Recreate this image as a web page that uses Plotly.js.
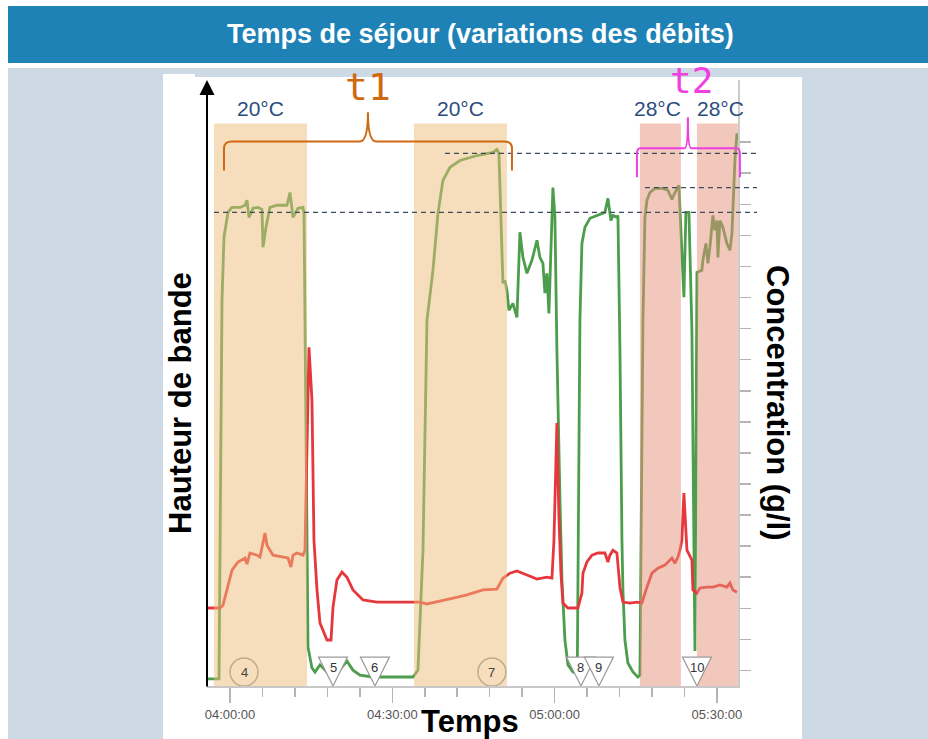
<!DOCTYPE html>
<html><head><meta charset="utf-8">
<script src="https://cdn.plot.ly/plotly-3.0.1.min.js"></script>
<style>html,body{margin:0;padding:0;background:#fff}#chart{width:928px;height:739px}</style>
</head><body><div id="chart"></div>
<script>
// ---- data (time in minutes after 04:00:00, values in concentration-axis units) ----
const xTickVals = [0, 30, 60, 90];
const xTickLabels = ['04:00:00', '04:30:00', '05:00:00', '05:30:00'];
const concTicks = [1,2,3,4,5,6,7,8,9,10,11,12,13,14,15,16,17,18];

const greenT = [-4.62,-2.03,-1.48,-1.11,-0.37,0.37,1.85,2.77,3.14,3.51,4.25,5.17,5.91,6.10,6.65,7.39,8.69,10.53,11.09,11.64,12.57,13.49,13.68,14.05,14.42,15.15,15.71,16.63,17.93,19.04,20.70,21.62,22.73,24.03,26.43,33.82,34.74,35.67,36.41,37.52,38.44,39.36,40.66,42.51,45.65,48.61,49.34,49.71,50.27,50.45,50.82,51.19,51.56,52.30,53.04,53.59,54.15,54.89,55.81,56.37,56.74,57.29,57.84,58.21,58.58,58.95,59.69,60.06,60.43,60.99,61.36,61.91,62.47,63.39,64.13,64.22,64.50,64.68,65.05,65.61,66.53,67.83,68.75,69.30,69.86,70.41,70.78,71.52,71.71,72.08,72.45,72.63,73.00,73.55,74.48,75.40,75.77,76.14,76.33,76.70,77.07,77.62,78.54,80.02,80.95,81.69,82.24,82.98,83.90,84.27,84.83,85.38,85.94,86.31,87.23,87.41,87.97,88.34,88.71,89.26,89.63,90.00,90.19,90.56,91.11,91.85,92.41,92.78,93.33,93.70,93.88];
const greenV = [0.73,0.73,12.91,14.94,15.74,15.90,15.90,15.97,16.13,15.58,15.87,15.90,15.84,14.62,15.26,15.90,15.97,15.97,16.38,15.58,15.87,15.90,15.71,8.09,1.75,1.08,0.95,1.18,0.95,0.69,1.11,1.30,1.01,0.85,0.79,0.79,1.01,4.87,12.27,13.88,15.71,16.77,17.19,17.41,17.57,17.67,17.77,17.64,14.94,13.46,13.55,13.23,12.59,12.81,12.36,15.10,14.29,13.78,14.20,14.62,14.84,14.29,14.10,13.14,13.78,12.49,16.54,15.58,11.30,6.48,3.91,1.98,1.18,0.95,0.92,1.56,9.70,12.27,14.74,15.26,15.55,15.64,15.71,15.74,16.19,15.48,15.64,15.58,15.64,11.30,5.19,3.59,1.98,1.24,0.95,0.79,0.85,8.09,12.27,15.58,16.13,16.38,16.51,16.51,16.45,16.16,16.38,16.61,13.01,15.74,15.74,11.95,1.63,13.81,13.88,14.20,14.74,14.10,14.62,15.64,15.16,15.48,14.29,15.48,15.26,14.74,14.52,15.07,17.41,18.28,18.06];

const redT = [-4.44,-1.85,-1.29,-0.55,0.37,1.48,2.77,3.14,3.70,4.99,5.54,6.47,6.84,7.95,9.79,10.72,11.27,11.64,12.38,13.49,13.86,14.60,15.15,15.34,15.52,16.08,16.63,17.93,18.67,19.04,19.77,20.70,21.62,22.73,24.58,27.17,30.12,35.11,36.41,38.26,40.66,43.80,46.76,49.34,50.45,51.75,53.04,54.89,56.74,58.58,59.51,59.88,60.43,60.80,61.17,61.54,62.47,64.31,65.05,65.24,65.97,66.90,68.01,69.30,69.86,70.23,70.78,71.52,72.08,72.63,73.92,75.22,76.14,77.07,77.99,79.10,80.39,81.69,82.24,82.79,83.16,83.53,83.90,84.46,85.38,85.57,86.31,86.86,88.15,89.26,90.56,91.85,92.41,92.96,93.70];
const redV = [3.01,3.01,3.10,3.59,4.23,4.49,4.62,4.42,4.78,4.71,4.65,5.42,5.03,4.71,4.65,4.62,4.33,4.71,4.78,4.71,4.87,11.40,9.70,7.54,5.19,3.59,2.53,1.98,1.98,3.04,3.91,4.17,4.00,3.59,3.27,3.20,3.20,3.20,3.14,3.20,3.30,3.43,3.59,3.62,3.97,4.13,4.20,4.07,3.94,4.00,3.97,5.19,8.96,5.93,4.13,3.17,3.01,3.01,3.49,4.13,4.49,4.71,4.78,4.78,4.49,4.71,4.87,4.78,3.68,3.20,3.17,3.20,3.17,3.68,4.13,4.29,4.39,4.62,4.45,4.65,4.87,5.19,6.71,4.87,4.55,3.59,3.49,3.65,3.68,3.68,3.75,3.68,3.81,3.59,3.52];

const regionStart = [-2.96, 34.00, 75.77, 86.31];
const regionEnd   = [14.23, 51.19, 83.35, 93.88];
const regionTemp  = ['20°C', '20°C', '28°C', '28°C'];
const regionKind  = ['t1', 't1', 't2', 't2'];
const regionTop = 18.6;

const eventTimes  = [19.04, 26.80, 64.87, 68.19, 86.31];
const eventLabels = ['5', '6', '8', '9', '10'];
const sampleTimes  = [2.59, 48.42];
const sampleLabels = ['4', '7'];

const refLevels = [15.74, 17.64, 16.54];
const refStarts = [-2.96, 39.73, 76.70];

// ---- scales / layout helpers ----
const X0 = -4.25, X1 = 93.9, Y0 = 0.5, Y1 = 20;
const L = 207, R = 190, T = 80, B = 53, W = 928, H = 739;
const PW = W - L - R, PH = H - T - B;
const xp = m => (m - X0) / (X1 - X0);          // data -> paper
const yp = v => (v - Y0) / (Y1 - Y0);
const pxX = p => (p - L) / PW;                 // page pixel -> paper
const pxY = p => (H - B - p) / PH;

const kindColor = {t1: '#cf6a12', t2: '#f03ee0'};
const fillColor = {t1: '#eebc7a', t2: '#e6917a'};
const SANS = 'Liberation Sans, Arial, sans-serif';

function brace(x0, x1, xc, yTop, yEnd, yCusp, rx, ry) {
  const a = xp(x0), b = xp(x1), c = xp(xc), rX = xp(x0 + rx) - xp(x0);
  const t = yp(yTop), e = yp(yEnd), k = yp(yCusp), r = yp(Y0 + ry) - yp(Y0);
  return `M${a},${e} L${a},${t - r} Q${a},${t} ${a + rX},${t} L${c - rX},${t} Q${c},${t} ${c},${k} ` +
         `Q${c},${t} ${c + rX},${t} L${b - rX},${t} Q${b},${t} ${b},${t - r} L${b},${e}`;
}

const shapes = [];
// page background
shapes.push({type:'rect', xref:'paper', yref:'paper', x0:pxX(8), x1:pxX(928), y0:pxY(739), y1:pxY(68), fillcolor:'#cdd9e5', line:{width:0}, layer:'below'});
shapes.push({type:'rect', xref:'paper', yref:'paper', x0:pxX(8), x1:pxX(928), y0:pxY(63), y1:pxY(6), fillcolor:'#1f82b6', line:{width:0}, layer:'below'});
shapes.push({type:'rect', xref:'paper', yref:'paper', x0:pxX(163), x1:pxX(802), y0:pxY(739), y1:pxY(77), fillcolor:'#ffffff', line:{width:0}, layer:'below'});
shapes.push({type:'rect', xref:'paper', yref:'paper', x0:pxX(163), x1:pxX(195), y0:pxY(78), y1:pxY(74), fillcolor:'#ffffff', line:{width:0}, layer:'below'});
// shaded temperature regions
regionStart.forEach((s, i) => {
  shapes.push({type:'rect', xref:'x', yref:'y', x0:s, x1:regionEnd[i], y0:Y0, y1:regionTop,
    fillcolor:fillColor[regionKind[i]], opacity:0.5, line:{width:0}, layer:'above'});
});
// event triangles
const triHalf = 2.68, triTop = 1.43;
eventTimes.forEach(t => {
  shapes.push({type:'path', xref:'x', yref:'y', layer:'above',
    path:`M${t - triHalf},${triTop} L${t + triHalf},${triTop} L${t},${Y0} Z`,
    fillcolor:'#ffffff', line:{color:'#9a9a9a', width:1.2}});
});
// dashed reference levels
refLevels.forEach((v, i) => {
  shapes.push({type:'line', xref:'paper', yref:'paper', x0:xp(refStarts[i]), x1:pxX(757), y0:yp(v), y1:yp(v),
    line:{color:'#3d4c5c', width:1.3, dash:'5px,4px'}, layer:'above'});
});
// braces
shapes.push({type:'path', xref:'paper', yref:'paper', layer:'above', line:{color:kindColor.t1, width:2},
  path: brace(-1.11, 52.12, 25.5, 18.02, 17.09, 18.96, 1.5, 0.22)});
shapes.push({type:'path', xref:'paper', yref:'paper', layer:'above', line:{color:kindColor.t2, width:2},
  path: brace(75.22, 94.25, 84.64, 17.80, 16.87, 18.80, 0.6, 0.18)});

const annotations = [];
const ann = o => annotations.push(Object.assign({showarrow:false, xanchor:'center', yanchor:'middle'}, o));
ann({xref:'paper', yref:'paper', x:pxX(481), y:pxY(34), text:'<b>Temps de séjour (variations des débits)</b>',
  font:{family:SANS, size:27, color:'#ffffff'}});
// vertical axis arrow
annotations.push({xref:'paper', yref:'paper', x:0, y:1, ax:0, ay:PH + 2, text:'', showarrow:true,
  arrowhead:2, arrowsize:1.5, arrowwidth:2, arrowcolor:'#000000', standoff:0, startstandoff:0});
// axis titles
ann({xref:'paper', yref:'paper', x:pxX(180), y:pxY(403), textangle:-90, text:'<b>Hauteur de bande</b>',
  font:{family:SANS, size:31, color:'#000'}});
ann({xref:'paper', yref:'paper', x:pxX(778), y:pxY(403), textangle:90, text:'<b>Concentration (g/l)</b>',
  font:{family:SANS, size:31, color:'#000'}});
ann({xref:'paper', yref:'paper', x:pxX(470), y:pxY(721), text:'<b>Temps</b>',
  font:{family:SANS, size:31, color:'#000'}});
// temperature labels
const tempShift = [0, 0, -3, 3];
regionStart.forEach((s, i) => {
  ann({xref:'x', yref:'paper', x:(s + regionEnd[i]) / 2, y:yp(19.09), xshift:tempShift[i], text:regionTemp[i],
    font:{family:SANS, size:21, color:'#2b4d7e'}});
});
// t1 / t2 labels
ann({xref:'paper', yref:'paper', x:xp(25.6), y:yp(19.79), text:'t1',
  font:{family:'DejaVu Sans Mono, monospace', size:38, color:kindColor.t1}});
ann({xref:'paper', yref:'paper', x:xp(85.3), y:yp(19.99), text:'t2',
  font:{family:'DejaVu Sans Mono, monospace', size:36, color:kindColor.t2}});
// event numbers
eventTimes.forEach((t, i) => {
  ann({xref:'x', yref:'y', x:t, y:1.08, text:eventLabels[i], font:{family:SANS, size:13, color:'#333'}});
});
sampleTimes.forEach((t, i) => {
  ann({xref:'x', yref:'y', x:t, y:0.95, text:sampleLabels[i], font:{family:SANS, size:13, color:'#444'}});
});

const traces = [
  {x:sampleTimes, y:sampleTimes.map(() => 0.95), mode:'markers', yaxis:'y', hoverinfo:'skip',
   marker:{symbol:'circle-open', size:28, color:'#8f9da0', line:{width:1.5}}},
  {x:greenT, y:greenV, mode:'lines', name:'Hauteur de bande', yaxis:'y', line:{color:'#4c9e4c', width:2.8}},
  {x:redT, y:redV, mode:'lines', name:'Concentration', yaxis:'y2', line:{color:'#e6383c', width:2.8}}
];

const layout = {
  width:W, height:H, margin:{l:L, r:R, t:T, b:B, pad:0},
  paper_bgcolor:'#ffffff', plot_bgcolor:'rgba(0,0,0,0)', showlegend:false,
  xaxis:{range:[X0, X1], tickmode:'array', tickvals:xTickVals, ticktext:xTickLabels,
    ticks:'outside', ticklen:15, tickwidth:1.5, tickcolor:'#b4b4b4',
    minor:{tick0:0, dtick:6, ticks:'outside', ticklen:9, tickwidth:1.5, tickcolor:'#b4b4b4', showgrid:false},
    showline:true, linecolor:'#c8c8c8', linewidth:2, showgrid:false, zeroline:false,
    tickfont:{family:SANS, size:13, color:'#555'}},
  yaxis:{range:[Y0, Y1], showline:false, showticklabels:false, ticks:'', showgrid:false, zeroline:false},
  yaxis2:{range:[Y0, Y1], overlaying:'y', side:'right', tickmode:'array', tickvals:concTicks,
    ticks:'outside', ticklen:11, tickwidth:1.5, tickcolor:'#b4b4b4', showticklabels:false,
    showline:true, linecolor:'#cccccc', linewidth:2, showgrid:false, zeroline:false},
  shapes:shapes, annotations:annotations
};

Plotly.newPlot('chart', traces, layout, {displayModeBar:false, staticPlot:true});
</script></body></html>
